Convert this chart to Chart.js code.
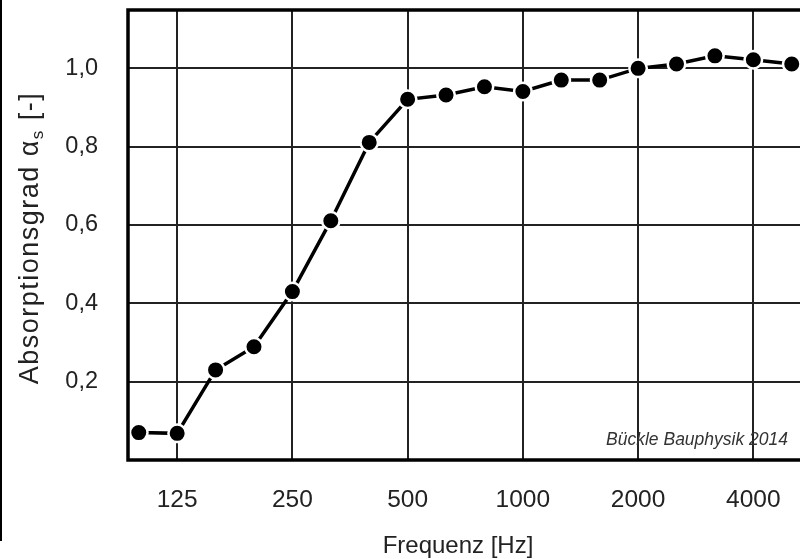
<!DOCTYPE html>
<html>
<head>
<meta charset="utf-8">
<script src="https://cdn.jsdelivr.net/npm/chart.js@4"></script>
<style>
  html, body { margin: 0; padding: 0; background: #fff; overflow: hidden; }
  #wrap { width: 812px; height: 559px; }
</style>
</head>
<body>
<div id="wrap"><canvas id="myChart"></canvas></div>
<script>
// third-octave bands (Hz) and measured absorption coefficient
const bands = ['100', '125', '160', '200', '250', '315', '400', '500', '630',
               '800', '1000', '1250', '1600', '2000', '2500', '3150', '4000', '5000'];
const absorption = [0.07, 0.068, 0.23, 0.289, 0.43, 0.611, 0.811, 0.921, 0.932,
                    0.953, 0.941, 0.97, 0.97, 1.0, 1.011, 1.032, 1.022, 1.011];
const xTickLabels = ['125', '250', '500', '1000', '2000', '4000'];
const yTicks = [0.2, 0.4, 0.6, 0.8, 1.0];

const FONT = '"Liberation Sans", Arial, sans-serif';

const decorations = {
  id: 'decorations',
  afterDraw(chart) {
    const c = chart.ctx;
    const a = chart.chartArea;
    c.save();
    // frame
    c.strokeStyle = '#000';
    c.lineWidth = 3.5;
    c.strokeRect(a.left, a.top, a.right - a.left, a.bottom - a.top);
    // stray edge line on the left of the original
    c.lineWidth = 2;
    c.beginPath();
    c.moveTo(1, 0);
    c.lineTo(1, 541);
    c.stroke();
    // watermark
    c.fillStyle = '#333';
    c.font = 'italic 17.5px ' + FONT;
    c.textAlign = 'right';
    c.textBaseline = 'alphabetic';
    c.fillText('Bückle Bauphysik 2014', 788, 445);
    // x title
    c.fillStyle = '#222';
    c.font = '24px ' + FONT;
    c.textAlign = 'center';
    c.fillText('Frequenz [Hz]', 458, 553);
    // y title with subscript
    c.translate(38, 238);
    c.rotate(-Math.PI / 2);
    c.textAlign = 'left';
    c.letterSpacing = '1.5px';
    const big = '27px ' + FONT, small = '17px ' + FONT;
    const p1 = 'Absorptionsgrad \u03b1', p2 = 's', p3 = ' [-]';
    c.font = big;
    const w1 = c.measureText(p1).width, w3 = c.measureText(p3).width;
    c.font = small;
    const w2 = c.measureText(p2).width;
    let x = -(w1 + w2 + w3) / 2;
    c.font = big;
    c.fillText(p1, x, 0);
    x += w1;
    c.font = small;
    c.fillText(p2, x, 5);
    x += w2;
    c.font = big;
    c.fillText(p3, x, 0);
    c.restore();
  }
};

const ctx = document.getElementById('myChart').getContext('2d');
const myChart = new Chart(ctx, {
  type: 'line',
  data: {
    datasets: [{
      data: absorption.map((v, i) => ({ x: i, y: v })),
      borderColor: '#000',
      borderWidth: 3.5,
      pointBackgroundColor: '#000',
      pointBorderColor: '#fff',
      pointBorderWidth: 2.5,
      pointRadius: 8.75,
      tension: 0
    }]
  },
  options: {
    responsive: true,
    maintainAspectRatio: false,
    animation: false,
    layout: { autoPadding: false, padding: { left: 0, right: 9.5, top: 10, bottom: 0 } },
    plugins: { legend: { display: false }, tooltip: { enabled: false } },
    scales: {
      x: {
        type: 'linear',
        min: -0.28,
        max: 17.28,
        afterBuildTicks: (scale) => {
          scale.ticks = xTickLabels.map(l => ({ value: bands.indexOf(l) }));
        },
        afterFit: (scale) => {
          scale.height = 99;
          scale.paddingLeft = 0;
          scale.paddingRight = 0;
        },
        grid: { color: '#222', lineWidth: 2, drawTicks: false },
        border: { display: false },
        ticks: {
          padding: 26,
          color: '#222',
          font: { family: FONT, size: 24.5 },
          maxRotation: 0,
          callback: (v) => bands[v]
        }
      },
      y: {
        min: 0,
        max: 1.149,
        afterBuildTicks: (scale) => {
          scale.ticks = yTicks.map(v => ({ value: v }));
        },
        afterFit: (scale) => {
          scale.width = 128;
          scale.paddingTop = 0;
          scale.paddingBottom = 0;
        },
        grid: { color: '#222', lineWidth: 2, drawTicks: false },
        border: { display: false },
        ticks: {
          padding: 30,
          color: '#222',
          font: { family: FONT, size: 23.5 },
          callback: (v) => v.toFixed(1).replace('.', ',')
        }
      }
    }
  },
  plugins: [decorations]
});
</script>
</body>
</html>
